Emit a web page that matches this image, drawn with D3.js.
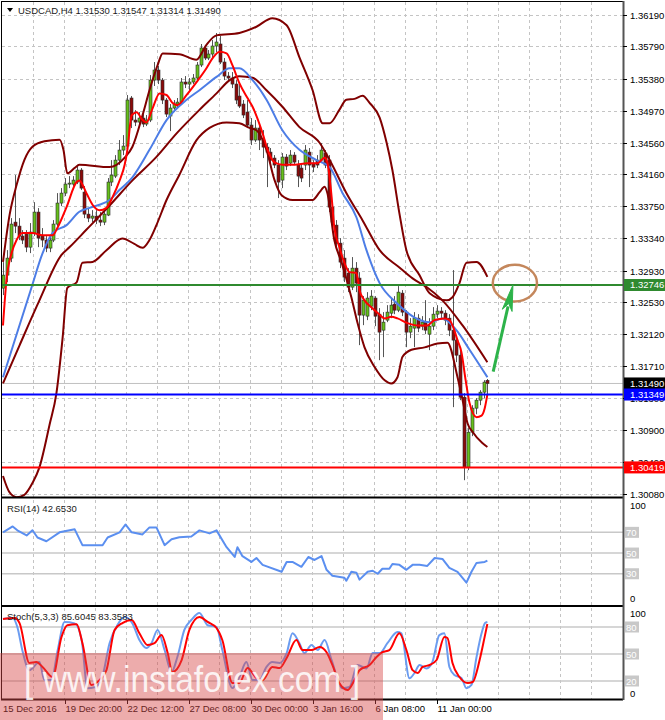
<!DOCTYPE html>
<html>
<head>
<meta charset="utf-8">
<script src="https://cdn.jsdelivr.net/npm/d3@7"></script>
<style>
  body { margin: 0; background: #fff; }
  text { font-family: "Liberation Sans", Arial, sans-serif; }
</style>
</head>
<body>
<div id="chart"></div>
<script>
// USDCAD H4, 15 Dec 2016 - 12 Jan 2017
const symbol = "USDCAD,H4";
const lastOHLC = [1.31530, 1.31547, 1.31314, 1.31490];

const opens = [
  1.32706, 1.32872, 1.33089, 1.33548, 1.33497, 1.33370, 1.33395, 1.33229, 1.33408, 1.33676,
  1.33370, 1.33319, 1.33217, 1.33319, 1.33523, 1.33791, 1.33918, 1.34033, 1.34033, 1.34059,
  1.34212, 1.33931, 1.33650, 1.33599, 1.33625, 1.33574, 1.33548, 1.33638, 1.34059, 1.34135,
  1.34339, 1.34467, 1.34518, 1.35131, 1.34850, 1.34824, 1.34875, 1.34799, 1.34850, 1.35360,
  1.35488, 1.35360, 1.35105, 1.34901, 1.35003, 1.35054, 1.35079, 1.35335, 1.35309, 1.35335,
  1.35386, 1.35552, 1.35769, 1.35641, 1.35692, 1.35794, 1.35820, 1.35590, 1.35411, 1.35386,
  1.35309, 1.35156, 1.35054, 1.34952, 1.34786, 1.34595, 1.34748, 1.34595, 1.34505, 1.34441,
  1.34365, 1.34276, 1.34084, 1.34378, 1.34301, 1.34403, 1.34276, 1.34237, 1.34276, 1.34441,
  1.34301, 1.34339, 1.34339, 1.34429, 1.34339, 1.33740, 1.33510, 1.33280, 1.33089, 1.32898,
  1.32719, 1.32961, 1.32834, 1.32362, 1.32349, 1.32476, 1.32579, 1.32374, 1.32170, 1.32298,
  1.32387, 1.32502, 1.32425, 1.32642, 1.32400, 1.32145, 1.32196, 1.32323, 1.32221, 1.32272,
  1.32119, 1.32221, 1.32374, 1.32413, 1.32387, 1.32323, 1.32170, 1.32043, 1.31851, 1.31315,
  1.30422, 1.30869, 1.31175, 1.31277, 1.31379, 1.31530
];
const highs = [
  1.33038, 1.33191, 1.33599, 1.34148, 1.33599, 1.33446, 1.33446, 1.33536, 1.33803, 1.33727,
  1.33472, 1.33370, 1.33370, 1.33574, 1.33918, 1.33982, 1.34110, 1.34135, 1.34135, 1.34263,
  1.34237, 1.34008, 1.33727, 1.33701, 1.33701, 1.33676, 1.33701, 1.34110, 1.34339, 1.34403,
  1.34595, 1.34658, 1.35169, 1.35156, 1.34977, 1.34952, 1.34926, 1.34914, 1.35424, 1.35590,
  1.35539, 1.35386, 1.35131, 1.35054, 1.35105, 1.35131, 1.35386, 1.35411, 1.35386, 1.35437,
  1.35590, 1.35820, 1.35807, 1.35743, 1.35871, 1.35960, 1.35922, 1.35641, 1.35462, 1.35462,
  1.35360, 1.35335, 1.35105, 1.35105, 1.34875, 1.34850, 1.34786, 1.34722, 1.34556, 1.34493,
  1.34403, 1.34339, 1.34429, 1.34416, 1.34467, 1.34441, 1.34339, 1.34288, 1.34531, 1.34493,
  1.34339, 1.34403, 1.34556, 1.34467, 1.34403, 1.33791, 1.33574, 1.33344, 1.33191, 1.32961,
  1.33102, 1.33038, 1.32910, 1.32604, 1.32655, 1.32681, 1.32604, 1.32451, 1.32400, 1.32489,
  1.32579, 1.32604, 1.32732, 1.32681, 1.32425, 1.32323, 1.32400, 1.32374, 1.32349, 1.32553,
  1.32323, 1.32464, 1.32489, 1.32464, 1.32425, 1.32374, 1.32936, 1.32106, 1.31915, 1.31366,
  1.30920, 1.31213, 1.31303, 1.31405, 1.31532, 1.31547
];
const lows = [
  1.32617, 1.32783, 1.33038, 1.33408, 1.33319, 1.33268, 1.33165, 1.33153, 1.33370, 1.33229,
  1.33229, 1.33165, 1.33165, 1.33293, 1.33497, 1.33752, 1.33880, 1.33982, 1.34008, 1.34033,
  1.33957, 1.33599, 1.33548, 1.33548, 1.33523, 1.33497, 1.33510, 1.33625, 1.34008, 1.34110,
  1.34276, 1.34403, 1.34493, 1.34748, 1.34773, 1.34773, 1.34760, 1.34773, 1.34824, 1.35284,
  1.35309, 1.35054, 1.34888, 1.34709, 1.34952, 1.35003, 1.35054, 1.35258, 1.35233, 1.35309,
  1.35360, 1.35526, 1.35615, 1.35615, 1.35641, 1.35717, 1.35564, 1.35360, 1.35335, 1.35258,
  1.35054, 1.35003, 1.34875, 1.34748, 1.34531, 1.34569, 1.34467, 1.34365, 1.33995, 1.34276,
  1.34237, 1.33855, 1.33982, 1.34212, 1.34263, 1.34276, 1.33995, 1.34059, 1.34212, 1.33995,
  1.34186, 1.34237, 1.34301, 1.34237, 1.33676, 1.33497, 1.33191, 1.32961, 1.32783, 1.32655,
  1.32681, 1.32655, 1.31979, 1.32234, 1.32298, 1.32425, 1.32221, 1.31787, 1.31826, 1.32272,
  1.32323, 1.32374, 1.32400, 1.32349, 1.31953, 1.32068, 1.31953, 1.32145, 1.32170, 1.32119,
  1.31915, 1.32170, 1.32323, 1.32323, 1.32234, 1.32094, 1.31188, 1.31762, 1.31277, 1.30256,
  1.30384, 1.30818, 1.31098, 1.31213, 1.31303, 1.31314
];
const closes = [
  1.32872, 1.33089, 1.33523, 1.33497, 1.33370, 1.33319, 1.33229, 1.33421, 1.33676, 1.33344,
  1.33319, 1.33217, 1.33319, 1.33523, 1.33791, 1.33918, 1.34033, 1.34046, 1.34084, 1.34212,
  1.33982, 1.33650, 1.33599, 1.33625, 1.33574, 1.33548, 1.33650, 1.34059, 1.34148, 1.34339,
  1.34467, 1.34518, 1.35105, 1.34850, 1.34824, 1.34875, 1.34799, 1.34850, 1.35360, 1.35488,
  1.35360, 1.35105, 1.34926, 1.35003, 1.35054, 1.35079, 1.35335, 1.35309, 1.35335, 1.35386,
  1.35552, 1.35769, 1.35641, 1.35692, 1.35794, 1.35845, 1.35590, 1.35411, 1.35386, 1.35309,
  1.35105, 1.35028, 1.34914, 1.34786, 1.34595, 1.34748, 1.34595, 1.34505, 1.34441, 1.34339,
  1.34276, 1.34059, 1.34378, 1.34263, 1.34403, 1.34314, 1.34135, 1.34110, 1.34467, 1.34276,
  1.34250, 1.34276, 1.34467, 1.34276, 1.33740, 1.33548, 1.33280, 1.33038, 1.32846, 1.32719,
  1.32961, 1.32770, 1.32362, 1.32553, 1.32579, 1.32604, 1.32349, 1.32145, 1.32272, 1.32400,
  1.32489, 1.32425, 1.32655, 1.32400, 1.32145, 1.32221, 1.32323, 1.32196, 1.32272, 1.32170,
  1.32221, 1.32374, 1.32413, 1.32387, 1.32298, 1.32170, 1.32043, 1.31851, 1.31315, 1.30422,
  1.30869, 1.31175, 1.31277, 1.31379, 1.31507, 1.31490
];

// indicator lines, sampled as [bar, value]
const fastMA = [
  [0,1.3223],[0.9,1.3281],[2.2,1.3315],[3.5,1.3332],[5,1.3341],[7.6,1.3341],[10.2,1.3338],[12.8,1.3338],
  [14.1,1.3348],[16.4,1.3374],[19,1.3406],[19.7,1.3408],[21.5,1.3392],[23.1,1.3377],[24.9,1.3370],
  [26.7,1.3373],[28.3,1.3387],[30.1,1.3408],[31.4,1.3428],[32.1,1.3447],[33.2,1.3491],[34.5,1.3495],
  [36,1.3485],[37,1.3482],[38.6,1.3500],[40.4,1.3519],[42.2,1.3517],[43.7,1.3507],[45,1.3504],
  [47.4,1.3517],[49.9,1.3533],[52.5,1.3551],[54.1,1.3564],[55.9,1.3572],[57.7,1.3570],[59.2,1.3555],
  [61,1.3532],[63.1,1.3513],[64.4,1.3502],[67,1.3468],[68.3,1.3447],[70.1,1.3431],[72.1,1.3428],
  [75.2,1.3428],[78.6,1.3430],[81.2,1.3430],[83,1.3437],[83.7,1.3431],[84.8,1.3387],[85.5,1.3348],
  [86.8,1.3323],[88.1,1.3303],[89.4,1.3291],[91.2,1.3290],[92,1.3268],[93.3,1.3255],[95.1,1.3246],
  [96.7,1.3239],[98.5,1.3232],[100.2,1.3234],[101.8,1.3232],[104.4,1.3226],[107,1.3223],[109.5,1.3223],
  [111.4,1.3230],[113.9,1.3232],[115.2,1.3230],[116,1.3223],[117.3,1.3204],[118.3,1.3189],[119.4,1.3153],
  [120.4,1.3124],[122.2,1.3106],[123.5,1.3108],[124.3,1.3117],[125,1.3135]
];
const slowMA = [
  [0,1.3157],[7.4,1.3272],[10.2,1.3315],[12.8,1.3341],[16.4,1.3351],[19.7,1.3368],[22.3,1.3373],
  [24.9,1.3377],[27.5,1.3383],[30.1,1.3396],[33.4,1.3412],[37.8,1.3447],[42.2,1.3485],[47.4,1.3511],
  [50.7,1.3523],[55.1,1.3540],[58.5,1.3551],[61,1.3551],[64.4,1.3536],[68,1.3511],[72.1,1.3472],
  [76.5,1.3447],[80.9,1.3434],[84.3,1.3425],[87.6,1.3392],[91.2,1.3361],[93.8,1.3319],[97.2,1.3277],
  [101.5,1.3252],[107.5,1.3230],[110.1,1.3227],[113.4,1.3232],[117,1.3217],[120.4,1.3192],[125,1.3157]
];
const midLine = [
  [0,1.3149],[4.3,1.3198],[9.4,1.3255],[15.1,1.3313],[17.2,1.3323],[21.5,1.3345],[27.5,1.3376],
  [33.4,1.3408],[39.6,1.3438],[44.8,1.3468],[50.7,1.3498],[55.1,1.3519],[58.5,1.3536],[61,1.3541],
  [64.4,1.3539],[68,1.3523],[72.1,1.3502],[76.5,1.3476],[81.7,1.3456],[84.3,1.3434],[88.6,1.3392],
  [92.8,1.3357],[97.2,1.3319],[102.3,1.3297],[105.7,1.3283],[109.3,1.3272],[113.4,1.3255],
  [118.6,1.3223],[125,1.3176]
];
const bandUpper = [
  [0,1.3304],[1.7,1.3364],[3.5,1.3402],[5.5,1.3434],[7.6,1.3451],[10.7,1.3458],[14.6,1.3460],
  [15.6,1.3447],[16.6,1.3417],[18.5,1.3424],[19.7,1.3428],[27.5,1.3425],[31.4,1.3437],[33.4,1.3451],
  [36,1.3491],[37.8,1.3523],[39.9,1.3555],[41.2,1.3570],[45.5,1.3569],[49.9,1.3562],[52.5,1.3581],
  [55.1,1.3593],[61,1.3596],[65.4,1.3604],[69.5,1.3615],[73.2,1.3606],[76.5,1.3565],[79.9,1.3523],
  [82.5,1.3481],[84.3,1.3481],[86.8,1.3498],[88.6,1.3511],[90.7,1.3512],[92.8,1.3516],[94.6,1.3507],
  [97.2,1.3488],[99,1.3456],[100.5,1.3421],[102.3,1.3366],[104.1,1.3319],[107.5,1.3287],[110.1,1.3264],
  [114.5,1.3255],[116,1.3259],[117.8,1.3277],[119.6,1.3303],[122.2,1.3304],[125,1.3285]
];
const bandLower = [
  [0,1.3031],[1.7,1.3010],[3.5,1.3004],[5.5,1.3007],[7.6,1.3022],[9.4,1.3042],[12,1.3096],
  [13.8,1.3137],[15.4,1.3208],[16.6,1.3271],[19,1.3278],[20.5,1.3303],[23.1,1.3304],[26.7,1.3319],
  [30.8,1.3334],[33.9,1.3327],[36,1.3322],[37.8,1.3332],[39.6,1.3351],[42.2,1.3383],[45.5,1.3415],
  [49.9,1.3459],[53.3,1.3475],[57.7,1.3482],[61,1.3481],[63.6,1.3475],[65.4,1.3472],[68,1.3447],
  [70.1,1.3408],[71.9,1.3389],[74.7,1.3383],[79.9,1.3383],[81.7,1.3393],[83,1.3400],[83.7,1.3392],
  [85.5,1.3332],[87.4,1.3303],[89.9,1.3259],[91.5,1.3226],[93.3,1.3195],[95.9,1.3170],[98.5,1.3153],
  [100.2,1.3149],[101.8,1.3157],[103.1,1.3183],[105.4,1.3192],[108.8,1.3195],[112.1,1.3200],
  [114.7,1.3201],[117.3,1.3157],[118.6,1.3128],[119.9,1.3098],[121.2,1.3087],[123.7,1.3073],[125,1.3068]
];
const rsi = [
  [0,70],[2.5,75.7],[3.7,72],[6.1,67],[7.6,72],[8.9,65],[11.2,61.4],[14.6,70],[18.5,72.9],[20.5,57.6],
  [25.7,57.6],[27,65],[30.1,70],[31.6,77.6],[33.2,70],[36,68],[37.8,74.8],[39.6,74.8],[41.7,57.6],
  [43.5,63.3],[45.5,65.2],[48.6,66],[50.7,71.9],[53.3,69],[55.1,71.9],[57.7,55.7],[59.8,46.2],
  [60.5,55.7],[61.8,47],[64.1,41.4],[65.4,45.2],[67,38.6],[71.9,31.9],[73.2,41.4],[74.7,41.4],
  [77,36.7],[78.8,46.2],[80.4,43.3],[82.2,47.1],[83.5,33.8],[85,28.1],[88.1,26.2],[88.6,23.3],
  [89.9,31.9],[91.2,31],[92,24.3],[94.1,31.9],[95.4,32.9],[96.7,30],[97.9,34.8],[99.7,34.8],
  [100.5,39.5],[102.3,38.6],[104.1,33.8],[105.7,38.6],[107.5,38.6],[109.5,37.6],[111.4,45.2],
  [113.4,44.3],[115.2,35.7],[117.3,31.9],[119.6,21.4],[120.9,31.9],[122.2,40.5],[124.3,41.4],[125,42.65]
];
const stochK = [
  [0,88.9],[2.5,90],[3.7,80],[5,54],[6.8,32],[9.4,41],[10.7,21],[12.5,21],[14.1,54],[15.9,85.6],
  [18.5,84],[20.3,65.6],[21.8,12],[23.6,13],[25.4,21],[27.5,62],[29.5,82],[31.4,91],[33.4,84],
  [35.2,65.6],[37,56.7],[38.3,62],[39.9,76.7],[41.7,54.4],[43.5,30],[45,46.7],[46.8,76.7],[48.6,87.8],
  [50.7,95.6],[52.8,82],[55.1,80],[56.6,54.4],[59.2,12.2],[61,24.4],[62.8,41],[64.4,21],[66.2,21],
  [68,35.6],[69.5,41],[71.4,40],[73.2,51],[74.7,73],[76.5,62],[77.8,51],[79.6,60],[81.2,54.4],
  [83,65.6],[84.8,43.3],[87.6,12],[89.4,13.3],[91.5,37.8],[93.8,34],[95.4,51],[97.2,51],[99.2,62],
  [101.8,74.4],[102.8,73],[104.9,23],[106.2,28.9],[107.5,37.8],[109.3,34],[110.8,41],[112.6,71],
  [113.9,73],[115.2,35.6],[116.5,26.7],[118.3,23.3],[119.6,12],[120.9,15.6],[122.2,46.7],[123.5,73],
  [124.4,84.5],[125,85.6]
];
const stochD = [
  [0,88.9],[3,90],[4.3,84],[6.8,40],[8.6,41],[10.2,35.6],[12.8,24.4],[15.1,69],[16.6,82],[19,83],
  [20.5,62],[22.8,15.6],[24.9,21],[26.7,32],[28.8,76.7],[30.8,84.4],[33.2,87.8],[35.2,73],[37.3,60],
  [39.1,62],[40.9,71],[42.5,51],[43.7,30],[46.1,43.3],[48.1,76.7],[50.7,91],[52.8,85.6],[55.1,78.9],
  [56.6,65.6],[59.2,17.8],[61,17.8],[63.1,34.4],[65.4,23.3],[67,21],[69.5,35.6],[71.4,34.4],[73.2,45.6],
  [75.7,65.6],[77.3,54.4],[79.6,54.4],[81.7,57.8],[83.5,52],[85,37.8],[86.8,17.8],[88.9,10],[90.7,21],
  [92,32],[94.6,37.8],[96.4,46.7],[97.9,52],[99.7,54.4],[102.3,73],[104.1,54.4],[105.7,32],[107,28.9],
  [108.3,35.6],[110.1,37.8],[111.9,43.3],[113.9,69],[114.7,67.8],[116,40],[117.8,24.4],[119.9,17.8],
  [121.2,18.9],[123,43.3],[124.3,69],[125,83.36]
];

const rsiLast = "42.6530";
const stochLast = ["85.6045", "83.3583"];

const priceTicks = [1.36190, 1.35790, 1.35380, 1.34970, 1.34560, 1.34160, 1.33750, 1.33340,
  1.32930, 1.32530, 1.32120, 1.31710, 1.31300, 1.30900, 1.30490, 1.30080];
const timeLabelBars = [0, 16, 32, 48, 64, 80, 96, 112];
const timeLabels = ["15 Dec 2016", "19 Dec 20:00", "22 Dec 12:00", "27 Dec 08:00",
  "30 Dec 00:00", "3 Jan 16:00", "6 Jan 08:00", "11 Jan 00:00"];

const levelPrices = [1.32746, 1.31349, 1.30419];
const levelColors = ["#2f8a2f", "#0000ff", "#ff0000"];
const bidPrice = 1.31490;
const rsiLevels = [70, 50, 30];
const stochLevels = [80, 50, 20];

// hand-drawn annotations (bar, price)
const arrowFrom = [126.5, 1.3164];
const arrowTo = [131.6, 1.32746];
const targetZone = { bar: 132.1, price: 1.3277, barHalf: 5.7, priceHalf: 0.00235 };

function drawChart() {
    const width = 665, height = 720;
    const left = 2, right = 623;
    const mainTop = 2, mainBottom = 497;
    const rsiTop = 499, rsiBottom = 605;
    const stoTop = 607, stoBottom = 699;

    const svg = d3.select("#chart").append("svg")
        .attr("width", width)
        .attr("height", height);

    svg.append("rect").attr("width", width).attr("height", height).attr("fill", "#fff");

    const x = d3.scaleLinear().domain([0, 160]).range([3, 623]);
    const y = d3.scaleLinear().domain([1.30080, 1.36190]).range([494, 15]);
    const yRsi = d3.scaleLinear().domain([0, 100]).range([604.8, 501.3]);
    const ySto = d3.scaleLinear().domain([0, 100]).range([699, 609]);

    const defs = svg.append("defs");
    [["clipMain", mainTop, mainBottom], ["clipRsi", rsiTop, rsiBottom], ["clipSto", stoTop, stoBottom]]
        .forEach(([id, t, b]) => {
            defs.append("clipPath").attr("id", id).append("rect")
                .attr("x", left).attr("y", t).attr("width", right - left).attr("height", b - t);
        });

    // dashed grid
    const grid = svg.append("g")
        .attr("stroke", "#c4c4c4")
        .attr("stroke-width", 1)
        .attr("stroke-dasharray", "3,3");
    grid.selectAll(".vgrid")
        .data(d3.range(8, 160, 8))
        .join("line")
        .attr("class", "vgrid")
        .attr("x1", d => Math.round(x(d)) - 0.5)
        .attr("x2", d => Math.round(x(d)) - 0.5)
        .attr("y1", mainTop)
        .attr("y2", stoBottom);
    grid.selectAll(".hgrid")
        .data(priceTicks)
        .join("line")
        .attr("class", "hgrid")
        .attr("x1", left)
        .attr("x2", right)
        .attr("y1", d => Math.round(y(d)) + 0.5)
        .attr("y2", d => Math.round(y(d)) + 0.5);

    // oscillator level lines
    svg.append("g").selectAll("line")
        .data(rsiLevels)
        .join("line")
        .attr("x1", left).attr("x2", right)
        .attr("y1", d => yRsi(d)).attr("y2", d => yRsi(d))
        .attr("stroke", "#c8c8c8").attr("stroke-width", 1.5);
    svg.append("g").selectAll("line")
        .data(stochLevels)
        .join("line")
        .attr("x1", left).attr("x2", right)
        .attr("y1", d => ySto(d)).attr("y2", d => ySto(d))
        .attr("stroke", "#c8c8c8").attr("stroke-width", 1.5);

    // bid line
    svg.append("line")
        .attr("x1", left).attr("x2", right)
        .attr("y1", y(bidPrice)).attr("y2", y(bidPrice))
        .attr("stroke", "#c0c0c0").attr("stroke-width", 1);

    // candles
    const main = svg.append("g").attr("clip-path", "url(#clipMain)");
    const bars = d3.range(closes.length);
    main.selectAll(".wick")
        .data(bars)
        .join("line")
        .attr("class", "wick")
        .attr("x1", i => Math.round(x(i)) + 0.5)
        .attr("x2", i => Math.round(x(i)) + 0.5)
        .attr("y1", i => y(highs[i]))
        .attr("y2", i => y(lows[i]))
        .attr("stroke", "#555")
        .attr("stroke-width", 1);
    main.selectAll(".body")
        .data(bars)
        .join("rect")
        .attr("class", "body")
        .attr("x", i => Math.round(x(i)) - 1)
        .attr("width", 3)
        .attr("y", i => y(Math.max(opens[i], closes[i])))
        .attr("height", i => Math.max(1, Math.abs(y(opens[i]) - y(closes[i]))))
        .attr("fill", i => closes[i] >= opens[i] ? "#66c01c" : "#8b0a0a")
        .attr("stroke", "#2a2a2a")
        .attr("stroke-width", 0.6);

    // indicator lines on the price panel
    const priceLine = d3.line()
        .x(d => x(d[0]))
        .y(d => y(d[1]))
        .curve(d3.curveMonotoneX);
    [[bandUpper, "#800000"], [bandLower, "#800000"], [midLine, "#800000"],
     [slowMA, "#4d7de6"], [fastMA, "#ff0000"]].forEach(([data, color]) => {
        main.append("path")
            .attr("d", priceLine(data))
            .attr("fill", "none")
            .attr("stroke", color)
            .attr("stroke-width", 2)
            .attr("stroke-linejoin", "round");
    });

    // horizontal support / resistance lines
    main.selectAll(".level")
        .data(levelPrices)
        .join("line")
        .attr("class", "level")
        .attr("x1", left).attr("x2", right)
        .attr("y1", d => y(d)).attr("y2", d => y(d))
        .attr("stroke", (d, i) => levelColors[i])
        .attr("stroke-width", 2);

    // target ellipse and arrow
    const cx = x(targetZone.bar), cy = y(targetZone.price);
    svg.append("ellipse")
        .attr("cx", cx).attr("cy", cy)
        .attr("rx", x(targetZone.bar + targetZone.barHalf) - cx)
        .attr("ry", y(targetZone.price - targetZone.priceHalf) - cy)
        .attr("fill", "none")
        .attr("stroke", "#c4875c")
        .attr("stroke-width", 2.5);

    const ax0 = x(arrowFrom[0]), ay0 = y(arrowFrom[1]);
    const ax1 = x(arrowTo[0]), ay1 = y(arrowTo[1]);
    const len = Math.hypot(ax1 - ax0, ay1 - ay0);
    const ux = (ax1 - ax0) / len, uy = (ay1 - ay0) / len;
    const headLen = 26, headHalf = 5;
    const bx = ax1 - ux * headLen, by = ay1 - uy * headLen;
    svg.append("line")
        .attr("x1", ax0).attr("y1", ay0)
        .attr("x2", bx + ux * 4).attr("y2", by + uy * 4)
        .attr("stroke", "#2db34a").attr("stroke-width", 3);
    svg.append("path")
        .attr("d", `M${ax1},${ay1}L${bx - uy * headHalf},${by + ux * headHalf}L${bx + ux * 7},${by + uy * 7}L${bx + uy * headHalf},${by - ux * headHalf}Z`)
        .attr("fill", "#2db34a")
        .attr("stroke", "#2db34a")
        .attr("stroke-width", 1);

    // RSI panel
    svg.append("g").attr("clip-path", "url(#clipRsi)")
        .append("path")
        .attr("d", d3.line().x(d => x(d[0])).y(d => yRsi(d[1]))(rsi))
        .attr("fill", "none")
        .attr("stroke", "#5b8ff0")
        .attr("stroke-width", 2)
        .attr("stroke-linejoin", "round");

    // Stochastic panel
    const stoLine = d3.line().x(d => x(d[0])).y(d => ySto(d[1])).curve(d3.curveMonotoneX);
    const sto = svg.append("g").attr("clip-path", "url(#clipSto)");
    sto.append("path").attr("d", stoLine(stochK))
        .attr("fill", "none").attr("stroke", "#6b9cf0").attr("stroke-width", 2);
    sto.append("path").attr("d", stoLine(stochD))
        .attr("fill", "none").attr("stroke", "#ff0000").attr("stroke-width", 2);

    // frame
    const frame = svg.append("g").attr("stroke", "#000");
    frame.append("line").attr("x1", left).attr("x2", right).attr("y1", 1.5).attr("y2", 1.5).attr("stroke-width", 1);
    frame.append("line").attr("x1", 1.5).attr("x2", 1.5).attr("y1", 1).attr("y2", stoBottom + 1).attr("stroke-width", 1);
    [mainBottom + 0.5, rsiBottom + 1, stoBottom + 0.5].forEach(yy => {
        frame.append("line").attr("x1", 1).attr("x2", right).attr("y1", yy).attr("y2", yy).attr("stroke-width", 2);
    });
    frame.append("line").attr("x1", right + 0.5).attr("x2", right + 0.5).attr("y1", 1).attr("y2", stoBottom + 1)
        .attr("stroke", "#555").attr("stroke-width", 2);

    // price axis
    const axis = svg.append("g").attr("font-size", "9.5px").attr("fill", "#000");
    priceTicks.forEach(p => {
        const yy = Math.round(y(p)) + 0.5;
        axis.append("line").attr("x1", right).attr("x2", right + 4).attr("y1", yy).attr("y2", yy).attr("stroke", "#000");
        axis.append("text").attr("x", 630).attr("y", yy + 3.5).text(p.toFixed(5));
    });

    // oscillator scales
    const oscText = (txt, yy) => axis.append("text").attr("x", 630).attr("y", yy).text(txt);
    const oscBox = (txt, yy) => {
        axis.append("rect").attr("x", 625).attr("y", yy - 5.5).attr("width", 14).attr("height", 11).attr("fill", "#c8c8c8");
        axis.append("text").attr("x", 626).attr("y", yy + 3.5).attr("fill", "#fff").text(txt);
    };
    oscText("100", yRsi(100) + 8);
    rsiLevels.forEach(v => oscBox(v, yRsi(v)));
    oscText("0", yRsi(0) - 3);
    oscText("100", ySto(100) + 8);
    stochLevels.forEach(v => oscBox(v, ySto(v)));
    oscText("0", ySto(0) - 2);

    // price tags
    const tag = (price, bg) => {
        const yy = y(price);
        svg.append("rect").attr("x", right + 1).attr("y", yy - 6).attr("width", width - right).attr("height", 12).attr("fill", bg);
        svg.append("text").attr("x", 630).attr("y", yy + 3.5).attr("font-size", "9.5px").attr("fill", "#fff").text(price.toFixed(5));
    };
    tag(bidPrice, "#000");
    levelPrices.forEach((p, i) => tag(p, levelColors[i]));

    // time axis
    const tAxis = svg.append("g").attr("font-size", "9.5px").attr("fill", "#000");
    timeLabelBars.forEach((b, i) => {
        const xx = Math.round(x(b)) + 0.5;
        if (i > 0) tAxis.append("line").attr("x1", xx).attr("x2", xx).attr("y1", stoBottom).attr("y2", stoBottom + 5).attr("stroke", "#000");
        tAxis.append("text").attr("x", i === 0 ? 3 : xx).attr("y", 712).text(timeLabels[i]);
    });

    // titles
    svg.append("path").attr("d", "M7,8L13,8L10,12Z").attr("fill", "#000");
    svg.append("text").attr("x", 18).attr("y", 13.5).attr("font-size", "9.5px").attr("fill", "#1a1a1a")
        .text(`${symbol}  ${lastOHLC.map(v => v.toFixed(5)).join(" ")}`);
    svg.append("text").attr("x", 7).attr("y", 512).attr("font-size", "9.5px").attr("fill", "#1a1a1a")
        .text(`RSI(14) ${rsiLast}`);
    svg.append("text").attr("x", 7).attr("y", 619.5).attr("font-size", "9.5px").attr("fill", "#1a1a1a")
        .text(`Stoch(5,3,3) ${stochLast.join(" ")}`);

    // watermark
    svg.append("rect").attr("x", 0).attr("y", 653).attr("width", 383).attr("height", 67)
        .attr("fill", "#d84848").attr("opacity", 0.45);
    svg.append("text").attr("x", 24).attr("y", 692)
        .attr("font-family", "'Open Sans', sans-serif").attr("font-weight", 300)
        .attr("font-size", "36px").attr("fill", "#fff").attr("opacity", 0.85)
        .attr("textLength", 336).attr("lengthAdjust", "spacingAndGlyphs")
        .text("[ www.instaforex.com ]");
}

drawChart();
</script>
</body>
</html>
